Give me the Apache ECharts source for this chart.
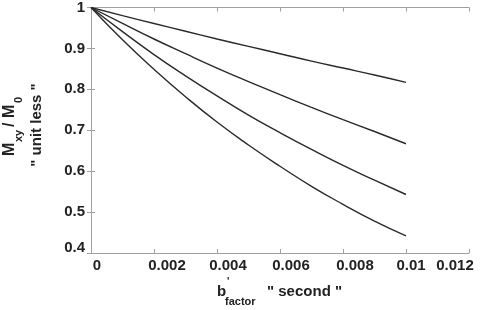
<!DOCTYPE html>
<html><head><meta charset="utf-8">
<script src="https://cdn.jsdelivr.net/npm/echarts@6/dist/echarts.min.js"></script>
<style>html,body{margin:0;padding:0;background:#fff}#c{width:480px;height:310px}</style>
</head><body><div id="c"></div>
<script>
var bValues = [0, 0.001, 0.002, 0.003, 0.004, 0.005, 0.006, 0.007, 0.008, 0.009, 0.01];
var curve1 = [1, 0.980, 0.961, 0.942, 0.923, 0.905, 0.887, 0.869, 0.852, 0.835, 0.817];
var curve2 = [1, 0.961, 0.923, 0.887, 0.852, 0.819, 0.787, 0.756, 0.726, 0.697, 0.667];
var curve3 = [1, 0.941, 0.885, 0.833, 0.784, 0.737, 0.694, 0.653, 0.614, 0.578, 0.543];
var curve4 = [1, 0.921, 0.849, 0.782, 0.720, 0.664, 0.612, 0.563, 0.519, 0.478, 0.442];
var xTickLabels = ['0', '0.002', '0.004', '0.006', '0.008', '0.01', '0.012'];
var yTickLabels = ['0.4', '0.5', '0.6', '0.7', '0.8', '0.9', '1'];

var FONT = '"Liberation Sans", Arial, sans-serif';
var chart = echarts.init(document.getElementById('c'));
function pairs(ys){ return bValues.map(function(x,i){ return [x, ys[i]]; }); }
// horizontal nudges of the x tick labels as seen in the reference
var xShift = [6, 13, 11, 11, 12, 5, -14];
var xRich = {};
xShift.forEach(function(d,i){
  xRich['x'+i] = {color:'#222', fontFamily:FONT, fontWeight:'bold', fontSize:15,
    padding: d >= 0 ? [0,0,0,2*d] : [0,-2*d,0,0]};
});
function xLab(v){ var i = Math.round(v/0.002); return xTickLabels[i] !== undefined ? '{x'+i+'|'+xTickLabels[i]+'}' : ''; }
function yLab(v){ var i = Math.round((v-0.4)/0.1); if (yTickLabels[i] === undefined) return '';
  return i === 0 ? '{lo|'+yTickLabels[i]+'}' : yTickLabels[i]; }
var axisCol = '#a0a0a0';
var lineStyle = {color:'#2a2a2a', width:1.4};
chart.setOption({
  animation:false,
  backgroundColor:'#fff',
  grid:{left:91, right:11, top:5, bottom:57},
  xAxis:[{
    type:'value', min:0, max:0.012, interval:0.002,
    axisLine:{show:true, lineStyle:{color:axisCol}},
    axisTick:{show:true, inside:true, length:4, lineStyle:{color:axisCol}},
    splitLine:{show:false},
    axisLabel:{formatter:xLab, margin:5, rich:xRich, color:'#222', fontFamily:FONT, fontWeight:'bold', fontSize:15}
  },{
    type:'value', position:'top', min:0, max:0.012, interval:0.002,
    axisLine:{show:true, lineStyle:{color:axisCol}},
    axisTick:{show:true, inside:true, length:4, lineStyle:{color:axisCol}},
    splitLine:{show:false}, axisLabel:{show:false}
  }],
  yAxis:[{
    type:'value', min:0.4, max:1, interval:0.1,
    axisLine:{show:true, lineStyle:{color:axisCol}},
    axisTick:{show:true, inside:true, length:4, lineStyle:{color:axisCol}},
    splitLine:{show:false},
    axisLabel:{formatter:yLab, margin:6, color:'#222', fontFamily:FONT, fontWeight:'bold', fontSize:15,
      rich:{lo:{color:'#222', fontFamily:FONT, fontWeight:'bold', fontSize:15, padding:[0,0,10,0]}}}
  },{
    type:'value', position:'right', min:0.4, max:1, interval:0.1,
    axisLine:{show:true, lineStyle:{color:axisCol}},
    axisTick:{show:true, inside:true, length:4, lineStyle:{color:axisCol}},
    splitLine:{show:false}, axisLabel:{show:false}
  }],
  series:[curve1, curve2, curve3, curve4].map(function(c){
    return {type:'line', data:pairs(c), smooth:true, showSymbol:false, lineStyle:lineStyle, z:3};
  }),
  graphic:[
    { type:'group', x:18, y:120, rotation:Math.PI/2, children:[
      {type:'text', x:-36, y:0, style:{text:'M', font:'bold 16px '+FONT, fill:'#222', textVerticalAlign:'bottom'}},
      {type:'text', x:-22, y:6, style:{text:'xy', font:'bold 11px '+FONT, fill:'#222', textVerticalAlign:'bottom'}},
      {type:'text', x:-7, y:0, style:{text:'/ M', font:'bold 16px '+FONT, fill:'#222', textVerticalAlign:'bottom'}},
      {type:'text', x:17, y:6, style:{text:'0', font:'bold 11px '+FONT, fill:'#222', textVerticalAlign:'bottom'}}
    ]},
    { type:'text', x:37, y:125, rotation:Math.PI/2, style:{text:'" unit less "', font:'bold 15px '+FONT, fill:'#222', align:'center', verticalAlign:'middle'}},
    { type:'group', x:217, y:299, children:[
      {type:'text', x:0, y:0, style:{text:'b', font:'bold 15px '+FONT, fill:'#222', textVerticalAlign:'bottom'}},
      {type:'text', x:10, y:-12, style:{text:"'", font:'bold 10px '+FONT, fill:'#222', textVerticalAlign:'bottom'}},
      {type:'text', x:8, y:8, style:{text:'factor', font:'bold 11px '+FONT, fill:'#222', textVerticalAlign:'bottom'}},
      {type:'text', x:50, y:0, style:{text:'" second "', font:'bold 15px '+FONT, fill:'#222', textVerticalAlign:'bottom'}}
    ]}
  ]
});
</script></body></html>
